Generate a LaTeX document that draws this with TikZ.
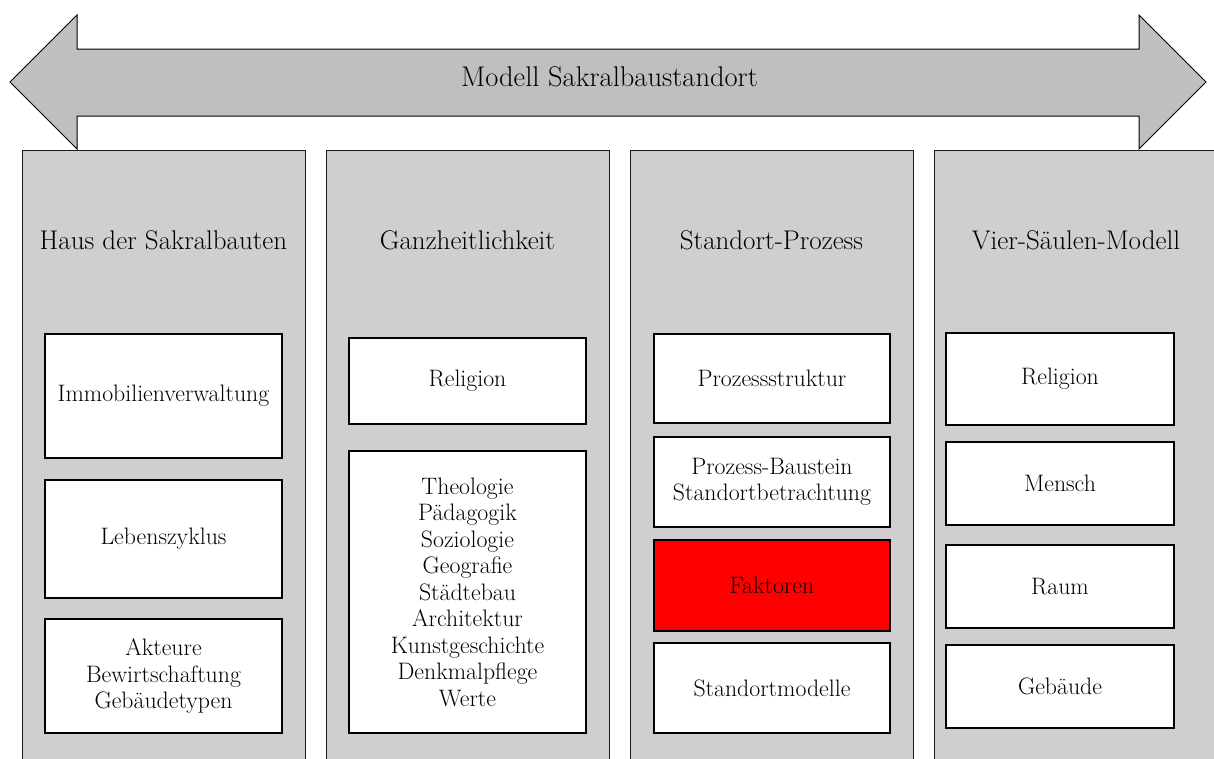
\documentclass[tikz,border=0pt]{standalone}
\usepackage{fontspec}
\begin{document}
\begin{tikzpicture}[x=1pt,y=-1pt,
  colbox/.style={draw=black!90, line width=0.9pt, fill=colgray},
  itembox/.style={draw=black, line width=2pt, fill=white, align=center, inner sep=0pt, outer sep=0pt,
    font=\fontsize{23.8}{26.5}\selectfont},
  coltitle/.style={font=\fontsize{27}{30}\selectfont, inner sep=0pt},
  maintitle/.style={font=\fontsize{28.5}{32}\selectfont, inner sep=0pt}]
\definecolor{colgray}{HTML}{D0CECF}
\definecolor{arrowgray}{HTML}{BFBFBF}
\useasboundingbox (0,0) rectangle (1214,758);
\clip (0,0) rectangle (1214,758);
% double arrow
\draw[line width=1pt, fill=arrowgray, line join=miter]
  (10,82) -- (77,15) -- (77,49) -- (1139,49) -- (1139,15) -- (1206,82)
  -- (1139,149) -- (1139,116) -- (77,116) -- (77,149) -- cycle;
\node[maintitle] (mt) at (609.5,77) {Modell Sakralbaustandort};
% columns
\draw[colbox] (22,770) -- (22,150) -- (305,150) -- (305,770);
\draw[colbox] (326,770) -- (326,150) -- (609,150) -- (609,770);
\draw[colbox] (630,770) -- (630,150) -- (913,150) -- (913,770);
\draw[colbox] (934,770) -- (934,150) -- (1220,150) -- (1220,770);
\node[coltitle] (t1) at (163.5,240) {Haus der Sakralbauten};
\node[coltitle] (t2) at (467.5,240) {Ganzheitlichkeit};
\node[coltitle] (t3) at (771.5,240) {Standort-Prozess};
\node[coltitle] (t4) at (1076,240) {Vier-Säulen-Modell};
% column 1
\node[itembox, minimum width=237pt, minimum height=124pt] (a1) at (163.5,396) {Immobilienverwaltung};
\node[itembox, minimum width=237pt, minimum height=118pt] (a2) at (163.5,539) {Lebenszyklus};
\node[itembox, minimum width=237pt, minimum height=114pt] (a3) at (163.5,676) {Akteure\\Bewirtschaftung\\Gebäudetypen};
% column 2
\node[itembox, minimum width=237pt, minimum height=86pt] (b1) at (467.5,381) {Religion};
\node[itembox, minimum width=237pt, minimum height=282pt] (b2) at (467.5,592) {Theologie\\Pädagogik\\Soziologie\\Geografie\\Städtebau\\Architektur\\Kunstgeschichte\\Denkmalpflege\\Werte};
% column 3
\node[itembox, minimum width=236pt, minimum height=89pt] (c1) at (772,378.5) {Prozessstruktur};
\node[itembox, minimum width=236pt, minimum height=90pt] (c2) at (772,482) {Prozess-Baustein\\Standortbetrachtung};
\node[itembox, minimum width=236pt, minimum height=91pt, fill=red] (c3) at (772,585.5) {Faktoren};
\node[itembox, minimum width=236pt, minimum height=90pt] (c4) at (772,688) {Standortmodelle};
% column 4
\node[itembox, minimum width=228pt, minimum height=92pt] (d1) at (1060,379) {Religion};
\node[itembox, minimum width=228pt, minimum height=83pt] (d2) at (1060,483.5) {Mensch};
\node[itembox, minimum width=228pt, minimum height=83pt] (d3) at (1060,586.5) {Raum};
\node[itembox, minimum width=228pt, minimum height=83pt] (d4) at (1060,686.5) {Gebäude};
\end{tikzpicture}
\end{document}
